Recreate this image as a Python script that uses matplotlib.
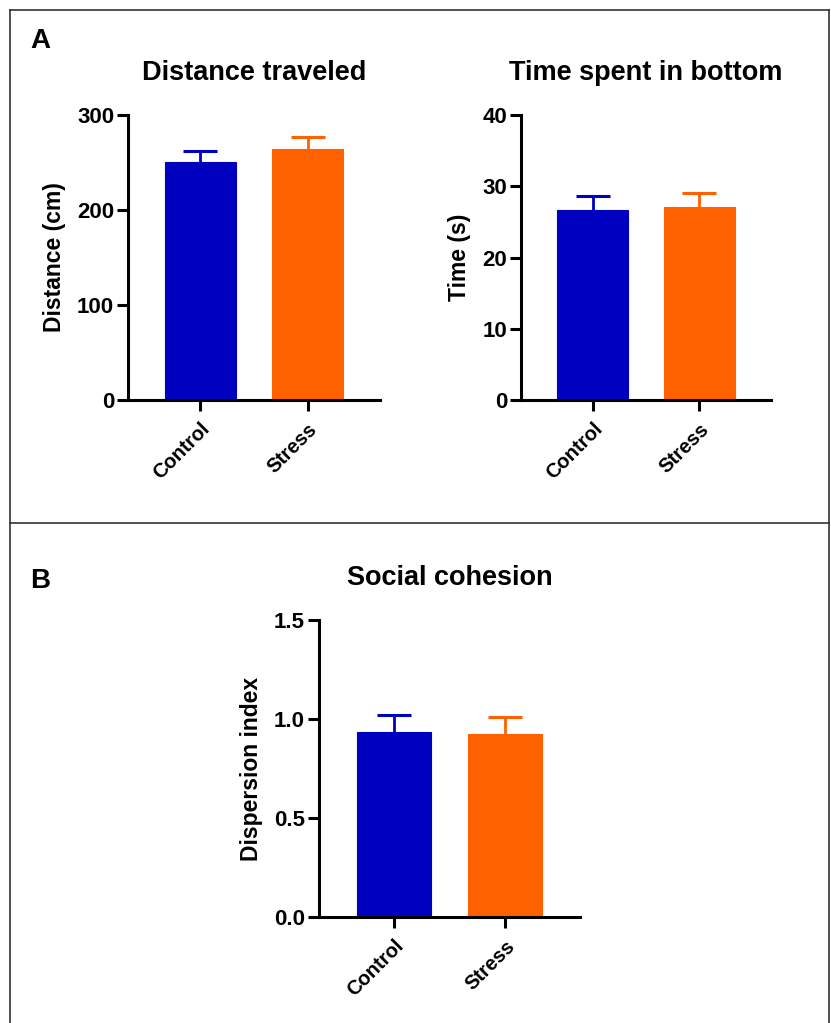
"""Recreate the three-panel behaviour figure (distance, bottom time, cohesion)."""

import matplotlib

matplotlib.use("Agg")

import matplotlib.pyplot as plt
from matplotlib.lines import Line2D

plt.rcParams["font.family"] = ["Liberation Sans", "DejaVu Sans"]
plt.rcParams["font.weight"] = "bold"

groups = ["Control", "Stress"]
colors = ["#0000C0", "#FF6000"]

distance_mean = [250, 264]
distance_sem = [12, 13]

bottom_mean = [26.6, 27.1]
bottom_sem = [2.0, 2.0]

cohesion_mean = [0.935, 0.925]
cohesion_sem = [0.085, 0.083]

W, H = 831, 1023
fig = plt.figure(figsize=(W / 100, H / 100), dpi=100)


def px_axes(x0, x1, y_top, y_bottom):
    return fig.add_axes([x0 / W, 1 - y_bottom / H, (x1 - x0) / W, (y_bottom - y_top) / H])


def bar_panel(ax, means, sems, title, ylabel, ylim, yticks, ytick_fmt):
    xs = list(range(len(groups)))
    for x, m, s, c in zip(xs, means, sems, colors):
        ax.bar(x, m, width=0.667, color=c, edgecolor=c, linewidth=0.8, zorder=2)
        _, caps, _ = ax.errorbar(x, m, yerr=[[0], [s]], color=c, capsize=12.5,
                                 elinewidth=2, capthick=2.2, zorder=1)
        # only the upper cap is shown, as in Prism
        for cap in caps:
            if cap.get_ydata()[0] <= m:
                cap.set_visible(False)
    ax.set_xlim(-0.675, 1.675)
    ax.set_ylim(*ylim)
    ax.set_yticks(yticks)
    ax.set_yticklabels([ytick_fmt.format(t) for t in yticks])
    ax.set_xticks(xs)
    ax.set_xticklabels(groups, rotation=45, ha="right", rotation_mode="anchor")
    for side in ("top", "right"):
        ax.spines[side].set_visible(False)
    for side in ("left", "bottom"):
        ax.spines[side].set_linewidth(2.2)
    ax.tick_params(axis="both", width=2.2, length=8)
    ax.tick_params(axis="y", labelsize=16, pad=2)
    ax.tick_params(axis="x", labelsize=14.5, pad=6)
    ax.set_ylabel(ylabel, fontsize=16.5, fontweight="bold", labelpad=8)
    ax.set_title(title, fontsize=19.5, fontweight="bold", pad=25)


ax1 = px_axes(128, 380, 115, 400)
bar_panel(ax1, distance_mean, distance_sem, "Distance traveled", "Distance (cm)",
          (0, 300), [0, 100, 200, 300], "{:d}")

ax2 = px_axes(521, 771, 115, 400)
bar_panel(ax2, bottom_mean, bottom_sem, "Time spent in bottom", "Time (s)",
          (0, 40), [0, 10, 20, 30, 40], "{:d}")

ax3 = px_axes(319, 580, 620, 917)
bar_panel(ax3, cohesion_mean, cohesion_sem, "Social cohesion", "Dispersion index",
          (0, 1.5), [0.0, 0.5, 1.0, 1.5], "{:.1f}")

# panel frame and divider
for xs_, ys_ in [((10, 829), (10, 10)), ((10, 10), (10, 1023)), ((829, 829), (10, 1023)),
                 ((10, 829), (523, 523))]:
    fig.add_artist(Line2D([x / W for x in xs_], [1 - y / H for y in ys_],
                          color="#333333", linewidth=1.2))

fig.text(30 / W, 1 - 41 / H, "A", fontsize=20, fontweight="bold", va="center")
fig.text(30 / W, 1 - 581 / H, "B", fontsize=20, fontweight="bold", va="center")

fig.savefig("out.png", dpi=100)
